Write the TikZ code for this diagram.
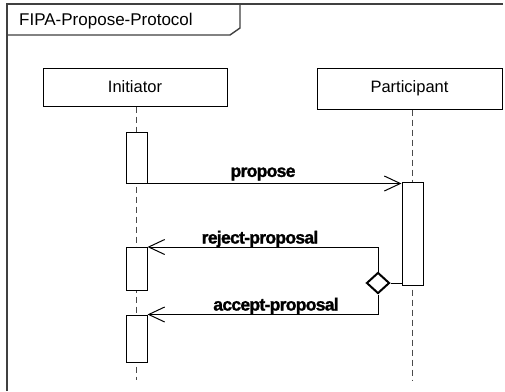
\documentclass[tikz,border=0pt]{standalone}
\usepackage{fontspec}
\setmainfont{Liberation Sans}
\newfontfamily\labelfont[FakeBold=1.4,LetterSpace=-4]{Liberation Sans Bold}
\usetikzlibrary{arrows.meta,shapes.geometric,backgrounds}
\definecolor{framegray}{HTML}{404040}
\definecolor{lifegray}{HTML}{4A4A4A}
\begin{document}
\begin{tikzpicture}[x=1pt,y=-1pt,
  frameline/.style={draw=framegray,line width=1.4pt},
  lifebox/.style={draw=black,line width=1pt,fill=white,rectangle,inner sep=0pt,font=\fontsize{16.5}{18}\selectfont},
  actbox/.style={draw=black,line width=1pt,fill=white,rectangle,inner sep=0pt,minimum width=21pt},
  lifeline/.style={draw=lifegray,line width=1.3pt,dash pattern=on 6pt off 4pt},
  msg/.style={draw=black,line width=1pt,-{Straight Barb[length=16pt,width=15pt,line width=1pt]}},
  plainline/.style={draw=black,line width=1pt},
  msglabel/.style={font=\labelfont\fontsize{17.5}{19}\selectfont,inner sep=0pt},
  choice/.style={diamond,draw=black,line width=2pt,fill=white,inner sep=0pt,minimum width=23pt,minimum height=21pt}
]
\useasboundingbox (0,0) rectangle (505,391);
% frame
\draw[frameline] (7,391) -- (7,4) -- (503,4);
\draw[frameline] (7,35) -- (230,35) -- (240,28) -- (240,4);
\node[anchor=base west,inner sep=0pt,font=\fontsize{17}{19}\selectfont] (title) at (19,25) {FIPA-Propose-Protocol};
% lifeline heads
\node[lifebox,minimum width=184pt,minimum height=38pt] (init) at (135,87) {Initiator};
\node[lifebox,minimum width=185pt,minimum height=41pt] (part) at (409.5,88.5) {Participant};
% activations
\node[actbox,minimum height=51pt] (a1) at (136.5,157.5) {};
\node[actbox,minimum height=103pt] (a2) at (412.5,233.5) {};
\node[actbox,minimum height=43pt] (a3) at (136.5,269) {};
\node[actbox,minimum height=47pt] (a4) at (136.5,338.5) {};
\coordinate (initEnd) at (136.5,380);
\coordinate (partEnd) at (412.5,380);
\begin{scope}[on background layer]
\fill[white] (0,0) rectangle (505,391);
\draw[lifeline] (init.south -| a1.center) -- (initEnd);
\draw[lifeline] (part.south -| a2.center) -- (partEnd);
\end{scope}
% choice
\node[choice] (d) at (378,283) {};
% messages
\draw[msg] (a1.south east) -- (a1.south east -| a2.west);
\draw[msg] (d.north) |- (a3.north east);
\draw[msg] (d.south) |- (a4.north east);
\draw[plainline] (d.east) -- (d.east -| a2.west);
% labels
\node[msglabel] (lp) at (263,174) {propose};
\node[msglabel] (lr) at (260,239) {reject-proposal};
\node[msglabel] (la) at (276,306) {accept-proposal};
\end{tikzpicture}
\end{document}
